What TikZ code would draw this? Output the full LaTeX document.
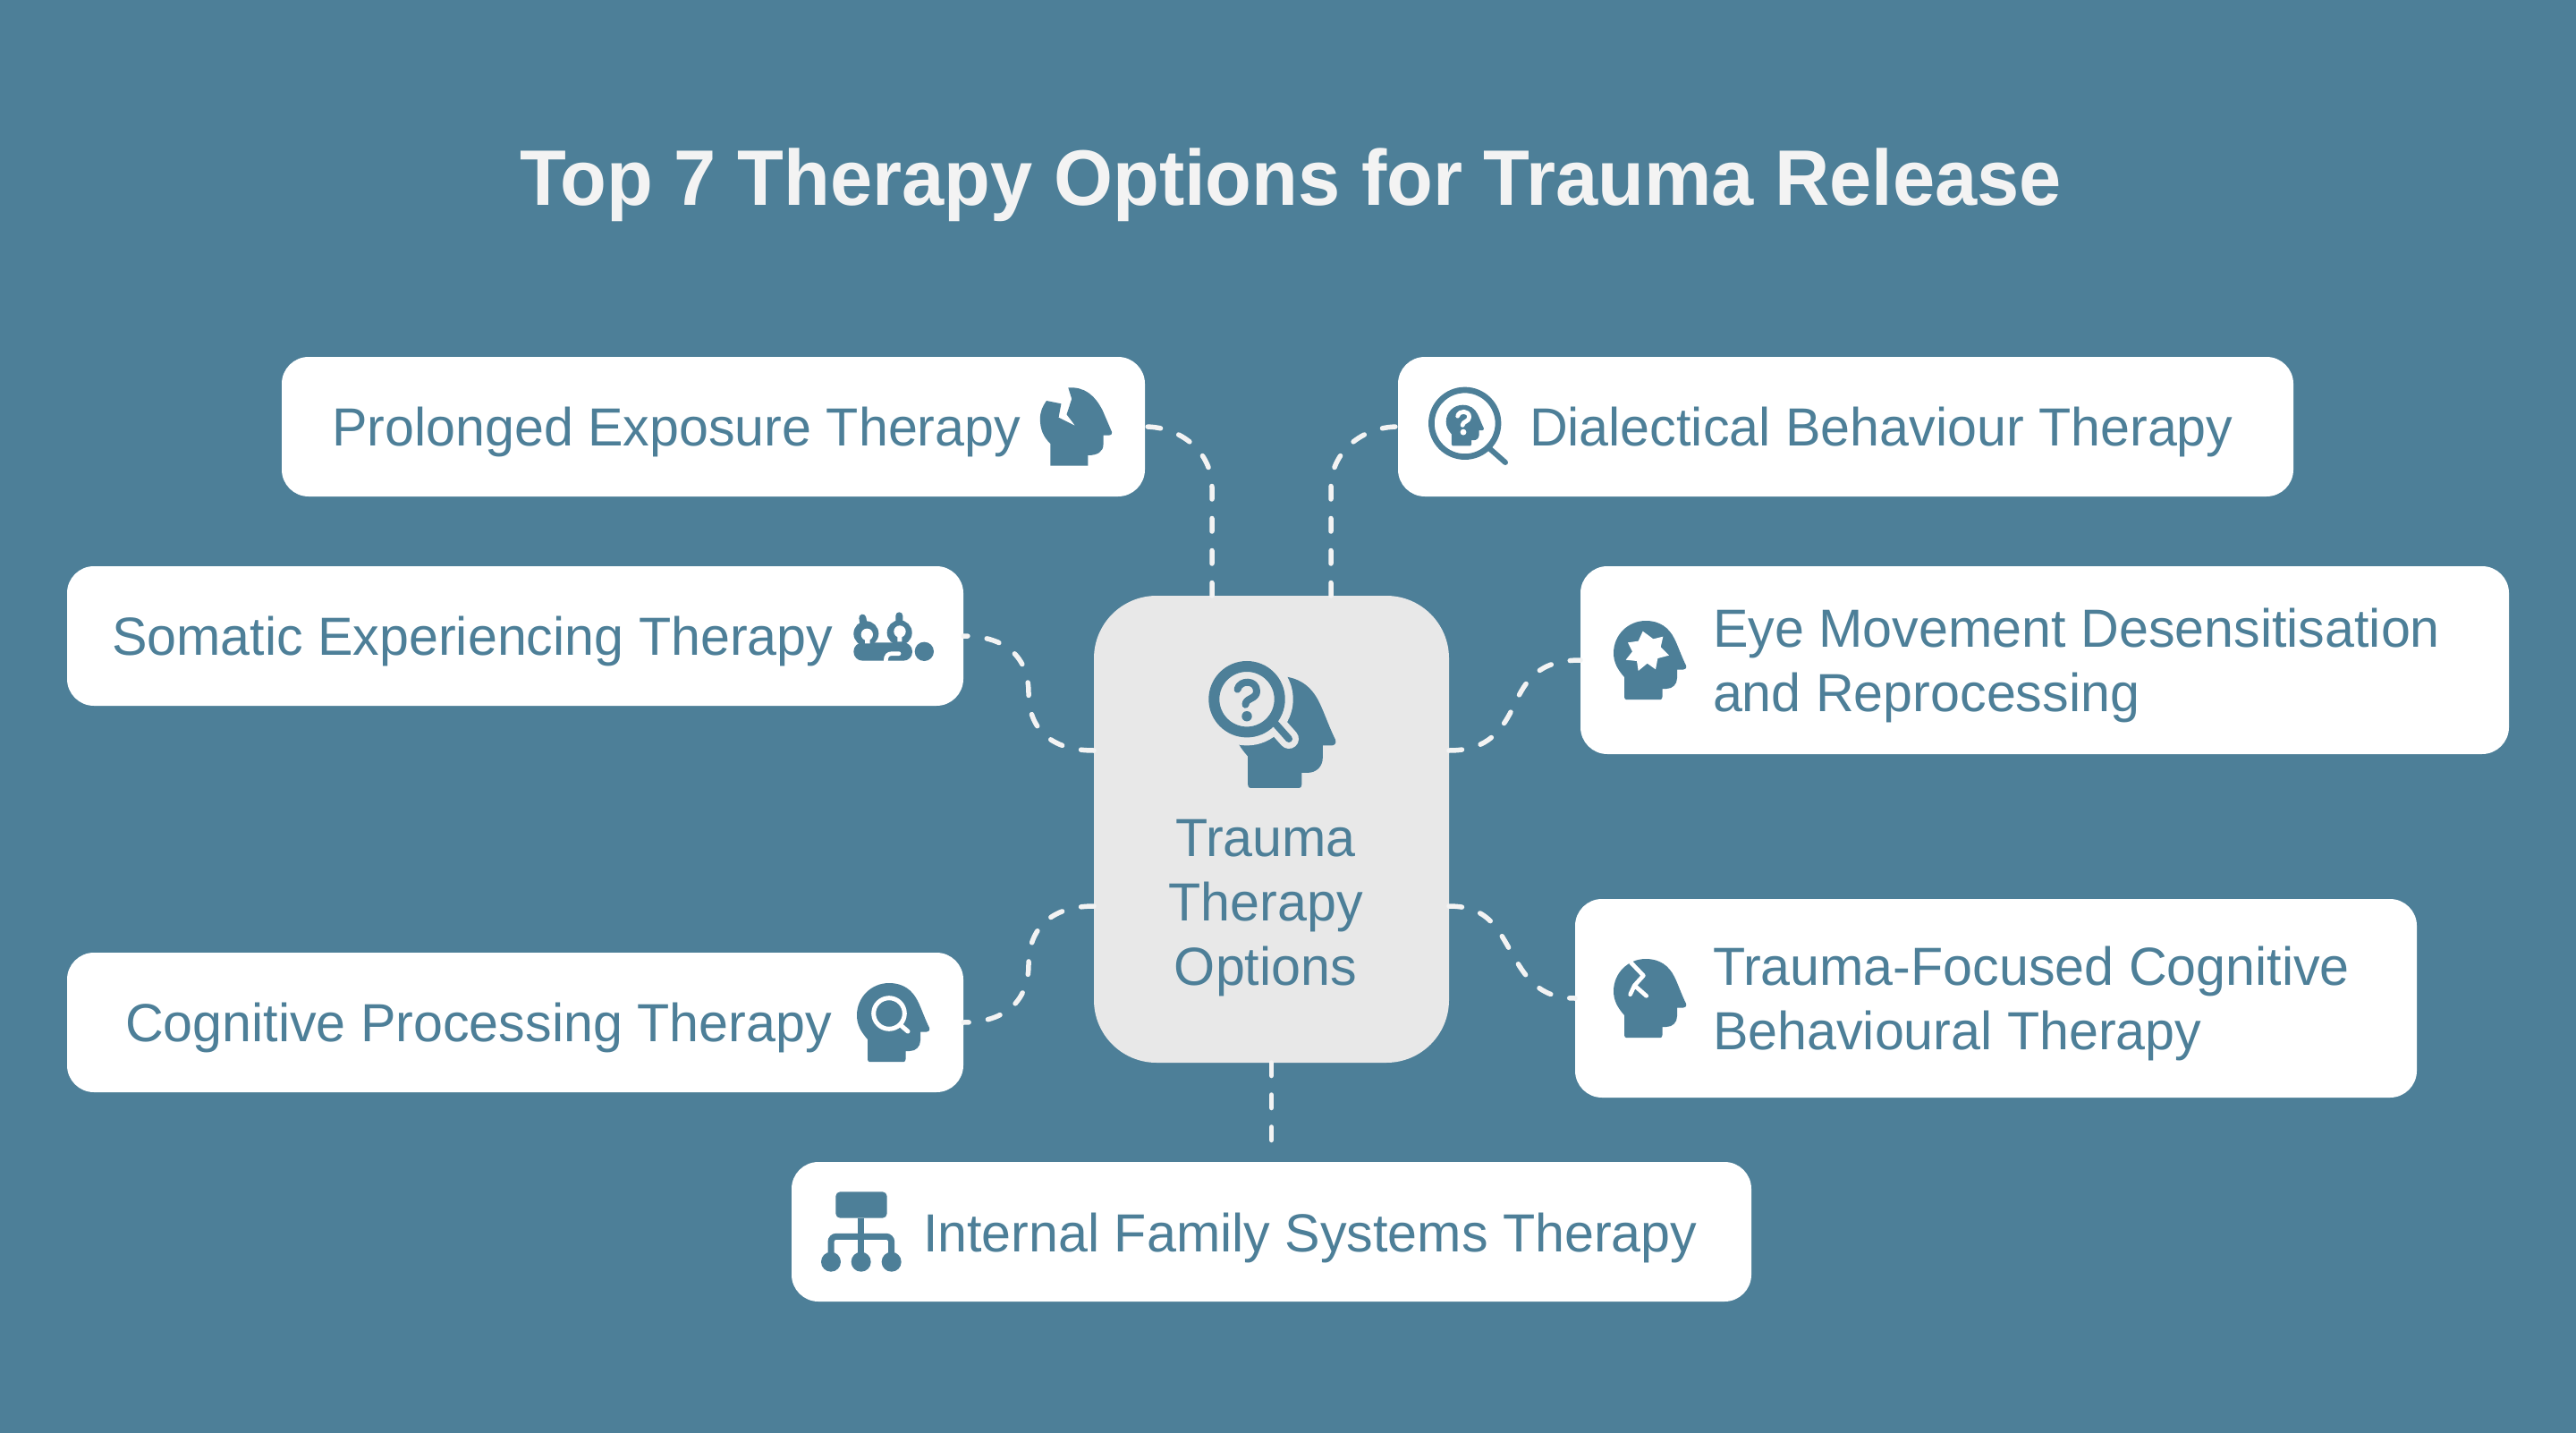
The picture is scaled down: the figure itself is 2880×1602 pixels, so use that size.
\documentclass[tikz,border=0pt]{standalone}
\usepackage{fontspec}
\setmainfont[FakeStretch=0.987]{Liberation Sans}
\newfontfamily\titlefont[FakeStretch=0.964]{Liberation Sans}
\definecolor{teal}{HTML}{4D7F98}
\definecolor{panel}{HTML}{E8E8E8}
\definecolor{dashcol}{HTML}{F3F3F3}
\newcommand\headpath{(12,85) -- (12,63) .. controls (4,54) and (0,46) .. (0,36) .. controls (0,16) and (16,0) .. (36,0) .. controls (52,0) and (62,8) .. (68,20) .. controls (72,28) and (76,40) .. (81,50) .. controls (82,53) and (80,54.5) .. (78,54.5) -- (71,54.5) -- (71,64) .. controls (71,71) and (66,76) .. (59,76) -- (54.5,76) -- (54.5,85) .. controls (54.5,87) and (53.5,88) .. (52.5,88) -- (14,88) .. controls (13,88) and (12,87) .. (12,85) -- cycle}
\newcommand\quest[2]{%
  \draw[line width=#1,line cap=round,line join=round,#2]
    (-10.5,-11) .. controls (-8,-22) and (11,-22) .. (11,-9) .. controls (11,0) and (-1.5,-1.5) .. (-1.5,6);
  \fill[#2] (0,19) circle (5.7);}
\tikzset{
  card/.style={fill=white,rounded corners=30pt,inner sep=0pt,outer sep=0pt},
  hub/.style={fill=panel,rounded corners=70pt,inner sep=0pt,outer sep=0pt,minimum width=397pt,minimum height=522pt},
  label/.style={text=teal,inner sep=0pt,outer sep=0pt,font=\fontsize{60}{72}\selectfont},
  heading/.style={text=dashcol,inner sep=0pt,outer sep=0pt,font=\titlefont\fontsize{88}{100}\selectfont\bfseries},
  link/.style={draw=dashcol,line width=5.5pt,line cap=round,dash pattern=on 14.5pt off 21.5pt},
}
\begin{document}
\begin{tikzpicture}[x=1pt,y=-1pt]
\useasboundingbox (0,0) rectangle (2880,1602);
\fill[teal] (0,0) rectangle (2880,1602);

\node[heading] (title) at (1443,207) {Top 7 Therapy Options for Trauma Release};

% cards
\node[card,minimum width=965pt,minimum height=156pt] (pe) at (797.5,477) {};
\node[card,minimum width=1001pt,minimum height=156pt] (dbt) at (2063.5,477) {};
\node[card,minimum width=1002pt,minimum height=156pt] (som) at (576,711) {};
\node[card,minimum width=1038pt,minimum height=210pt] (eye) at (2286,738) {};
\node[card,minimum width=941pt,minimum height=222pt] (tf) at (2231.5,1116) {};
\node[card,minimum width=1002pt,minimum height=156pt] (cp) at (576,1143) {};
\node[card,minimum width=1073pt,minimum height=156pt] (ifs) at (1421.5,1377) {};
\node[hub] (hub) at (1421.5,927) {};

% connector ends on the hub
\coordinate (ct1) at (1355,666);
\coordinate (ct2) at (1488,666);
\coordinate (cl1) at (1223,839);
\coordinate (cl2) at (1223,1013);
\coordinate (cr1) at (1620,839);
\coordinate (cr2) at (1620,1013);

% connectors
\draw[link] (ct1) -- (1355,545) .. controls (1355,505) and (1320,477) .. (pe.east);
\draw[link] (ct2) -- (1488,545) .. controls (1488,505) and (1523,477) .. (dbt.west);
\draw[link] (cl1) .. controls (1175,839) and (1150,815) .. (1150,775) .. controls (1150,735) and (1125,711) .. (som.east);
\draw[link] (cl2) .. controls (1175,1013) and (1150,1038) .. (1150,1078) .. controls (1150,1118) and (1125,1143) .. (cp.east);
\draw[link] (cr1) .. controls (1665,839) and (1680,815) .. (1693,788) .. controls (1706,760) and (1720,738) .. (eye.west);
\draw[link] (cr2) .. controls (1665,1013) and (1675,1040) .. (1690,1065) .. controls (1705,1092) and (1720,1116) .. (tf.west);
\draw[link,shorten >=20pt] (hub.south) -- (ifs.north);

% labels
\node[label,anchor=west] (tpe) at (371,483) {Prolonged Exposure Therapy};
\node[label,anchor=west] (tsom) at (125,717) {Somatic Experiencing Therapy};
\node[label,anchor=west] (tcp) at (140,1149) {Cognitive Processing Therapy};
\node[label,anchor=west] (tifs) at (1032,1384) {Internal Family Systems Therapy};
\node[label,anchor=west] (tdbt) at (1710,483) {Dialectical Behaviour Therapy};
\node[label,anchor=west,align=left] (teye) at (1915,744) {Eye Movement Desensitisation\\and Reprocessing};
\node[label,anchor=west,align=left] (ttf) at (1915,1122) {Trauma-Focused Cognitive\\Behavioural Therapy};
\node[label,align=center] (thub) at (1415,1015) {Trauma\\Therapy\\Options};

% hub icon
\fill[teal,shift={(1378,756)},scale=1.42] \headpath;
\draw[panel,line width=22pt,line cap=round] (1425,808) -- (1441,826);
\fill[panel] (1394,781.7) circle (51.7);
\draw[teal,line width=8pt,line cap=round] (1425,808) -- (1441,826);
\draw[teal,line width=12pt] (1394,781.7) circle (36.7);
\begin{scope}[shift={(1394,781.7)}]\quest{8pt}{teal}\end{scope}

% prolonged exposure icon
\begin{scope}[shift={(1120,380)},xscale=1/2.8,yscale=1/3]
\fill[teal] (208,160) .. controls (260,157) and (290,185) .. (315,235) -- (345,310) .. controls (345,316) and (342,320) .. (336,320) -- (318,320) -- (318,350) .. controls (318,375) and (300,387) .. (270,387) -- (270,422) -- (152,422) -- (152,348) .. controls (130,325) and (120,300) .. (120,265) .. controls (120,240) and (128,222) .. (140,204) -- (186,214) -- (178,260) -- (230,288) -- (203,250) -- (219,198) -- cycle;
\end{scope}

% dialectical icon
\draw[teal,line width=6.7pt] (1637.7,473.3) circle (37.3);
\draw[teal,line width=6pt,line cap=round] (1666,502) -- (1683,517);
\fill[teal,shift={(1616.7,452.7)},scale=0.52] \headpath;
\begin{scope}[shift={(1636,471.7)},scale=0.6]\quest{4.8pt}{white}\end{scope}

% somatic icon
\begin{scope}[shift={(920,620)},scale=1/3]
\fill[teal] (340,325) circle (32);
\fill[teal,rounded corners=10pt] (103,295) rectangle (300,356);
\fill[teal] (145,265) circle (42) (257,262) circle (42);
\draw[teal,line width=8pt,line cap=round] (133,212) -- (137,235) (256,205) -- (256,230);
\fill[white] (148,268) circle (20) (258,258) circle (20);
\fill[white] (141,270) rectangle (158,298) (250,270) rectangle (265,292);
\draw[white,line width=4.7pt,line cap=round] (211,356) .. controls (211,340) and (218,332) .. (232,332) -- (255,332);
\end{scope}

% eye movement icon
\fill[teal,shift={(1804,694)}] \headpath;
\begin{scope}[shift={(1780,670)},scale=1/3]
\fill[white] (170,107) -- (205,133) -- (238,125) -- (230,160) -- (258,188) -- (220,198) -- (213,235) -- (185,215) -- (155,240) -- (150,207) -- (113,203) -- (135,175) -- (120,145) -- (155,140) -- cycle;
\end{scope}

% trauma-focused icon
\fill[teal,shift={(1804,1072)}] \headpath;
\begin{scope}[shift={(1780,1050)},scale=1/3]
\draw[white,line width=4.7pt,line cap=round,line join=round] (130,78) -- (172,122) -- (142,155) -- (128,185) (142,155) -- (182,190);
\end{scope}

% cognitive icon
\fill[teal,shift={(958,1099)}] \headpath;
\draw[white,line width=5pt] (994,1133) circle (17.3);
\draw[white,line width=5pt,line cap=round] (1008,1147) -- (1015,1153);

% internal family icon
\begin{scope}[shift={(900,1320)},scale=1/3]
\fill[teal,rounded corners=5pt] (103,37) rectangle (275,125);
\draw[teal,line width=7pt] (188,125) -- (188,250);
\draw[teal,line width=7pt,rounded corners=6pt] (87,250) -- (87,187) -- (290,187) -- (290,250);
\fill[teal] (87,272) circle (33) (188,272) circle (33) (290,272) circle (33);
\end{scope}
\end{tikzpicture}
\end{document}
